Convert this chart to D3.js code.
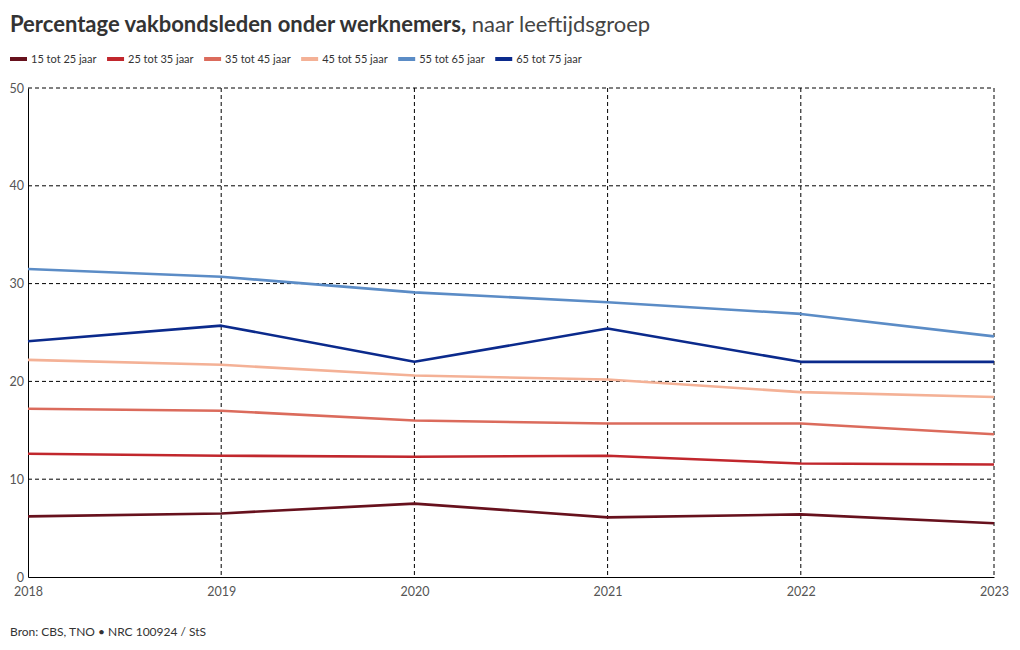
<!DOCTYPE html>
<html><head><meta charset="utf-8">
<script src="https://cdn.jsdelivr.net/npm/d3@7"></script>
<style>
body{margin:0;background:#fff;}
svg text{font-family:"Lato","Noto Sans",sans-serif;}
</style></head>
<body><svg id="c" width="1020" height="650"></svg>
<script>
const years = [2018, 2019, 2020, 2021, 2022, 2023];
const seriesNames = ["15 tot 25 jaar","25 tot 35 jaar","35 tot 45 jaar","45 tot 55 jaar","55 tot 65 jaar","65 tot 75 jaar"];
const seriesColors = ["#67111d","#c1272d","#db6b5c","#f4b196","#5b8cc6","#0b2a8c"];
const v15_25 = [6.2, 6.5, 7.5, 6.1, 6.4, 5.5];
const v25_35 = [12.6, 12.4, 12.3, 12.4, 11.6, 11.5];
const v35_45 = [17.2, 17.0, 16.0, 15.7, 15.7, 14.6];
const v45_55 = [22.2, 21.7, 20.6, 20.2, 18.9, 18.4];
const v55_65 = [31.5, 30.7, 29.1, 28.1, 26.9, 24.6];
const v65_75 = [24.1, 25.7, 22.0, 25.4, 22.0, 22.0];
const yTicks = [0, 10, 20, 30, 40, 50];

const seriesValues = [v15_25, v25_35, v35_45, v45_55, v55_65, v65_75];
const svg = d3.select("#c");
const M = {l:28, r:994, t:88, b:577};
const x = d3.scaleLinear().domain([2018, 2023]).range([M.l, M.r]);
const y = d3.scaleLinear().domain([0, 50]).range([M.b, M.t]);

// title
const title = svg.append("text").attr("x", 10).attr("y", 32).attr("fill", "#333").style("font-size", "22px");
title.append("tspan").attr("font-weight", "bold").text("Percentage vakbondsleden onder werknemers,");
title.append("tspan").attr("font-weight", "normal").attr("fill","#444").text(" naar leeftijdsgroep");

// legend
let lx = 10;
seriesNames.forEach((n, i) => {
  const g = svg.append("g");
  g.append("rect").attr("x", lx).attr("y", 57).attr("width", 17).attr("height", 4).attr("fill", seriesColors[i]);
  const t = g.append("text").attr("x", lx + 21).attr("y", 63).attr("fill", "#333").style("font-size", "11px").text(n);
  lx += 21 + t.node().getComputedTextLength() + 10.5;
});

// grid
const grid = svg.append("g");
grid.selectAll("line.h").data(yTicks.filter(d => d > 0)).join("line")
  .attr("x1", M.l).attr("x2", M.r).attr("y1", d => y(d)).attr("y2", d => y(d))
  .attr("stroke", "#000").attr("stroke-width", 1).attr("stroke-dasharray", "4,3");
grid.selectAll("line.v").data(years.slice(1)).join("line")
  .attr("x1", d => x(d)).attr("x2", d => x(d)).attr("y1", M.t).attr("y2", M.b)
  .attr("stroke", "#000").attr("stroke-width", 1).attr("stroke-dasharray", "4,3");

// axes
const yAxis = svg.append("g").attr("transform", `translate(${M.l},0)`)
  .call(d3.axisLeft(y).tickValues(yTicks).tickSize(0).tickPadding(4));
yAxis.select(".domain").attr("stroke", "#000");
yAxis.selectAll("text").attr("fill", "#555").style("font-size", "12.5px").style("font-family", "Lato, sans-serif");

const xAxis = svg.append("g").attr("transform", `translate(0,${M.b})`)
  .call(d3.axisBottom(x).tickValues(years).tickFormat(d3.format("d")).tickSize(0).tickPadding(10));
xAxis.select(".domain").attr("stroke", "#000");
xAxis.selectAll("text").attr("fill", "#555").style("font-size", "12.5px").style("font-family", "Lato, sans-serif");

// lines
const line = d3.line().x((d, i) => x(years[i])).y(d => y(d));
seriesValues.forEach((vals, i) => {
  svg.append("path").datum(vals).attr("d", line).attr("fill", "none")
    .attr("stroke", seriesColors[i]).attr("stroke-width", 2.6).attr("stroke-linejoin", "round");
});

// source
svg.append("text").attr("x", 10).attr("y", 636).attr("fill", "#333").style("font-size", "12px")
  .text("Bron: CBS, TNO • NRC 100924 / StS");
</script></body></html>
